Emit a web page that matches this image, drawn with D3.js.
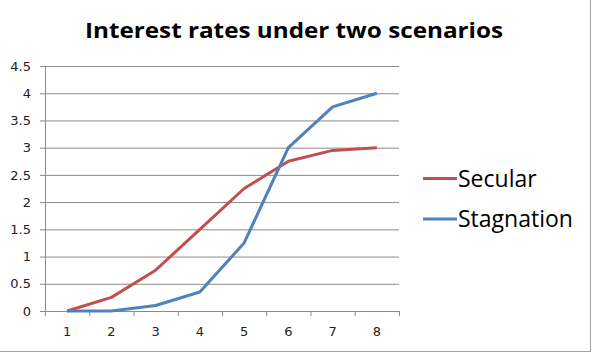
<!DOCTYPE html>
<html>
<head>
<meta charset="utf-8">
<script src="https://cdn.jsdelivr.net/npm/d3@7"></script>
<style>
  body { margin: 0; background: #fff; }
  svg { display: block; }
</style>
</head>
<body>
<svg id="chart" width="595" height="356"></svg>
<script>
'use strict';

var periods = [1, 2, 3, 4, 5, 6, 7, 8]
,   secular = [0, 0.25, 0.75, 1.5, 2.25, 2.75, 2.95, 3]
,   stagnation = [0, 0, 0.1, 0.35, 1.25, 3, 3.75, 4]
,   yTicks = [0, 0.5, 1, 1.5, 2, 2.5, 3, 3.5, 4, 4.5]
,   seriesNames = ['Secular', 'Stagnation']

var series = [
  { name: seriesNames[0], values: secular, color: '#C0504D' }
, { name: seriesNames[1], values: stagnation, color: '#4F81BD' }
]

var svg = d3.select('#chart')
,   plot = { left: 45, right: 399, top: 66, bottom: 311 }
,   gridColor = '#8a8a8a'

svg.append('rect')
  .attr('width', 595).attr('height', 356)
  .attr('fill', '#fff')

// cropped frame: only right and bottom edges are visible
svg.append('path')
  .attr('d', 'M0,351.5H590.5V0')
  .attr('fill', 'none')
  .attr('stroke', '#a0a0a0')

var x = d3.scaleBand().domain(periods).range([plot.left, plot.right])
,   y = d3.scaleLinear().domain([0, 4.5]).range([plot.bottom, plot.top])

// title
svg.append('text')
  .attr('x', 294).attr('y', 37.5)
  .attr('text-anchor', 'middle')
  .attr('font-family', 'Open Sans')
  .attr('font-weight', 'bold')
  .attr('font-size', 22)
  .attr('textLength', 418)
  .attr('lengthAdjust', 'spacingAndGlyphs')
  .attr('fill', '#000')
  .text('Interest rates under two scenarios')

// y axis with gridlines
var yAxis = svg.append('g')
  .attr('transform', 'translate(' + plot.left + ',0)')
  .call(d3.axisLeft(y).tickValues(yTicks).tickSize(-(plot.right - plot.left)).tickPadding(9)
    .tickFormat(d3.format('')))

yAxis.select('.domain').remove()
yAxis.selectAll('.tick line')
  .attr('x1', -5)
  .attr('stroke', gridColor)
yAxis.selectAll('.tick text')
  .attr('x', -14)
  .attr('font-family', 'DejaVu Sans')
  .attr('font-size', 13)
  .attr('fill', '#222')

svg.append('line')
  .attr('x1', plot.left + 0.5).attr('x2', plot.left + 0.5)
  .attr('y1', plot.top).attr('y2', plot.bottom)
  .attr('stroke', gridColor)

// x axis, ticks between categories
var xAxis = svg.append('g')
  .attr('transform', 'translate(0,' + plot.bottom + ')')
  .call(d3.axisBottom(x).tickSize(0).tickPadding(16))

xAxis.select('.domain').attr('stroke', gridColor)
xAxis.selectAll('.tick text')
  .attr('font-family', 'DejaVu Sans')
  .attr('font-size', 13)
  .attr('fill', '#222')

xAxis.selectAll('.boundary')
  .data(periods.concat([null]))
  .enter().append('line')
  .attr('class', 'boundary')
  .attr('x1', (d, i) => (i < periods.length ? x(d) : plot.right) + 0.5)
  .attr('x2', (d, i) => (i < periods.length ? x(d) : plot.right) + 0.5)
  .attr('y1', 0).attr('y2', 5)
  .attr('stroke', gridColor)

// lines
var line = d3.line()
  .x((d, i) => x(periods[i]) + x.bandwidth() / 2)
  .y((d) => y(d))

svg.selectAll('.series')
  .data(series)
  .enter().append('path')
  .attr('class', 'series')
  .attr('d', (d) => line(d.values))
  .attr('fill', 'none')
  .attr('stroke', (d) => d.color)
  .attr('stroke-width', 3)
  .attr('stroke-linejoin', 'round')

// legend
var legend = svg.selectAll('.legend')
  .data(series)
  .enter().append('g')
  .attr('class', 'legend')
  .attr('transform', (d, i) => 'translate(423,' + (178.5 + i * 40.5) + ')')

legend.append('line')
  .attr('x1', 0).attr('x2', 34)
  .attr('stroke', (d) => d.color)
  .attr('stroke-width', 3)

legend.append('text')
  .attr('x', 35).attr('y', 8)
  .attr('font-family', 'Open Sans')
  .attr('font-size', 23)
  .attr('fill', '#000')
  .text((d) => d.name)
</script>
</body>
</html>
